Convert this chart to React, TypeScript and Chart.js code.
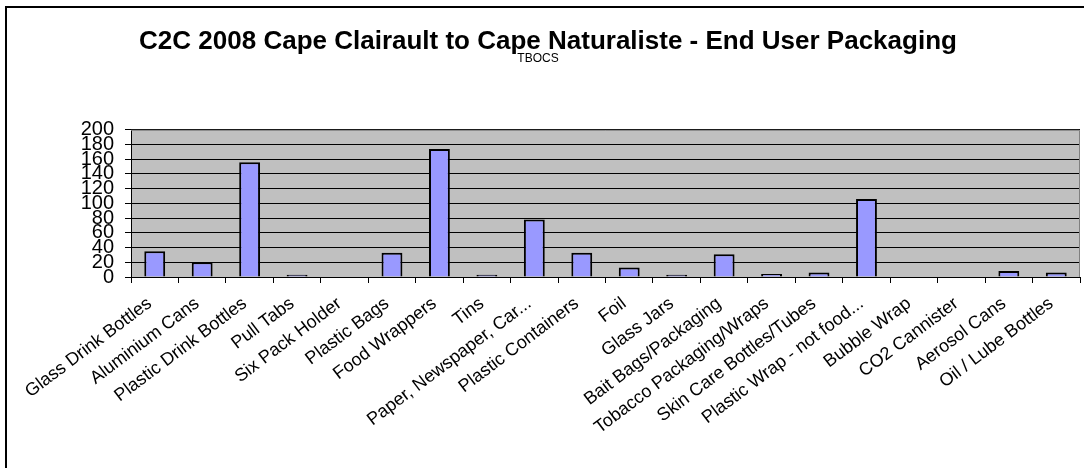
import React, { useEffect, useRef } from "react";
import { Chart, registerables } from "chart.js";

Chart.register(...registerables);

const categories = [
  "Glass Drink Bottles",
  "Aluminium Cans",
  "Plastic Drink Bottles",
  "Pull Tabs",
  "Six Pack Holder",
  "Plastic Bags",
  "Food Wrappers",
  "Tins",
  "Paper, Newspaper, Car...",
  "Plastic Containers",
  "Foil",
  "Glass Jars",
  "Bait Bags/Packaging",
  "Tobacco Packaging/Wraps",
  "Skin Care Bottles/Tubes",
  "Plastic Wrap - not food...",
  "Bubble Wrap",
  "CO2 Cannister",
  "Aerosol Cans",
  "Oil / Lube Bottles",
];

const counts = [35, 20, 156, 3, 0, 33, 174, 3, 78, 33, 13, 3, 31, 4, 6, 106, 0, 0, 8, 6];

const yMin = 0;
const yMax = 200;
const yStep = 20;

const titleText = "C2C 2008 Cape Clairault to Cape Naturaliste - End User Packaging";
const subtitleText = "TBOCS";

const FONT = "'Liberation Sans', Arial, sans-serif";

const framePlugin = {
  id: "frame",
  beforeDraw(chart: any) {
    const { ctx, chartArea: a, width, height } = chart;
    ctx.save();
    ctx.fillStyle = "#ffffff";
    ctx.fillRect(0, 0, width, height);
    ctx.fillStyle = "#000000";
    ctx.fillRect(5, 6, 2, height);
    ctx.fillRect(5, 6, width, 2);
    ctx.fillStyle = "#c0c0c0";
    ctx.fillRect(a.left, a.top, a.right - a.left, a.bottom - a.top);
    ctx.restore();
  },
  beforeDatasetsDraw(chart: any) {
    const { ctx, chartArea: a } = chart;
    ctx.save();
    ctx.strokeStyle = "#808080";
    ctx.lineWidth = 1;
    ctx.beginPath();
    ctx.moveTo(a.left, a.top + 0.5);
    ctx.lineTo(a.right - 0.5, a.top + 0.5);
    ctx.lineTo(a.right - 0.5, a.bottom);
    ctx.stroke();
    ctx.restore();
  },
  afterDraw(chart: any) {
    const { ctx } = chart;
    ctx.save();
    ctx.fillStyle = "#000000";
    ctx.font = "12px " + FONT;
    ctx.textAlign = "center";
    ctx.textBaseline = "middle";
    ctx.fillText(subtitleText, 538, 59);
    ctx.restore();
  },
};

export default function App() {
  const ref = useRef<HTMLCanvasElement | null>(null);

  useEffect(() => {
    if (!ref.current) return;
    const chart = new Chart(ref.current, {
      type: "bar",
      data: {
        labels: categories,
        datasets: [
          {
            data: counts,
            backgroundColor: "#9999ff",
            borderColor: "#000000",
            borderWidth: 2,
            barPercentage: 0.44,
            categoryPercentage: 1,
          },
        ],
      },
      plugins: [framePlugin],
      options: {
        responsive: false,
        animation: false,
        devicePixelRatio: 1,
        layout: { padding: { left: 16, right: 4, top: 0, bottom: 0 } },
        plugins: {
          legend: { display: false },
          tooltip: { enabled: false },
          title: {
            display: true,
            text: titleText,
            color: "#000000",
            font: { family: FONT, size: 26, weight: "bold", lineHeight: 0.8 },
            padding: { top: 31, bottom: 78 },
          },
        },
        scales: {
          x: {
            grid: {
              display: true,
              offset: true,
              drawOnChartArea: false,
              drawTicks: true,
              tickLength: 6,
              color: "#000000",
            },
            border: { display: true, color: "#000000", width: 1 },
            ticks: {
              autoSkip: false,
              minRotation: 37,
              maxRotation: 37,
              padding: 10,
              labelOffset: -5,
              color: "#000000",
              font: { family: FONT, size: 18 },
            },
            afterFit: (scale: any) => {
              scale.height = 191;
            },
          },
          y: {
            min: yMin,
            max: yMax,
            grid: {
              color: "#000000",
              lineWidth: 1,
              drawTicks: true,
              tickLength: 6,
            },
            border: { display: true, color: "#000000", width: 1 },
            ticks: {
              stepSize: yStep,
              autoSkip: false,
              padding: 11,
              color: "#000000",
              font: { family: FONT, size: 20, lineHeight: 1 },
            },
            afterFit: (scale: any) => {
              scale.width = 115;
            },
          },
        },
      },
    });
    return () => chart.destroy();
  }, []);

  return (
    <div style={{ position: "absolute", left: 0, top: 0, width: 1084, height: 468 }}>
      <canvas ref={ref} width={1084} height={468} style={{ display: "block" }} />
    </div>
  );
}
